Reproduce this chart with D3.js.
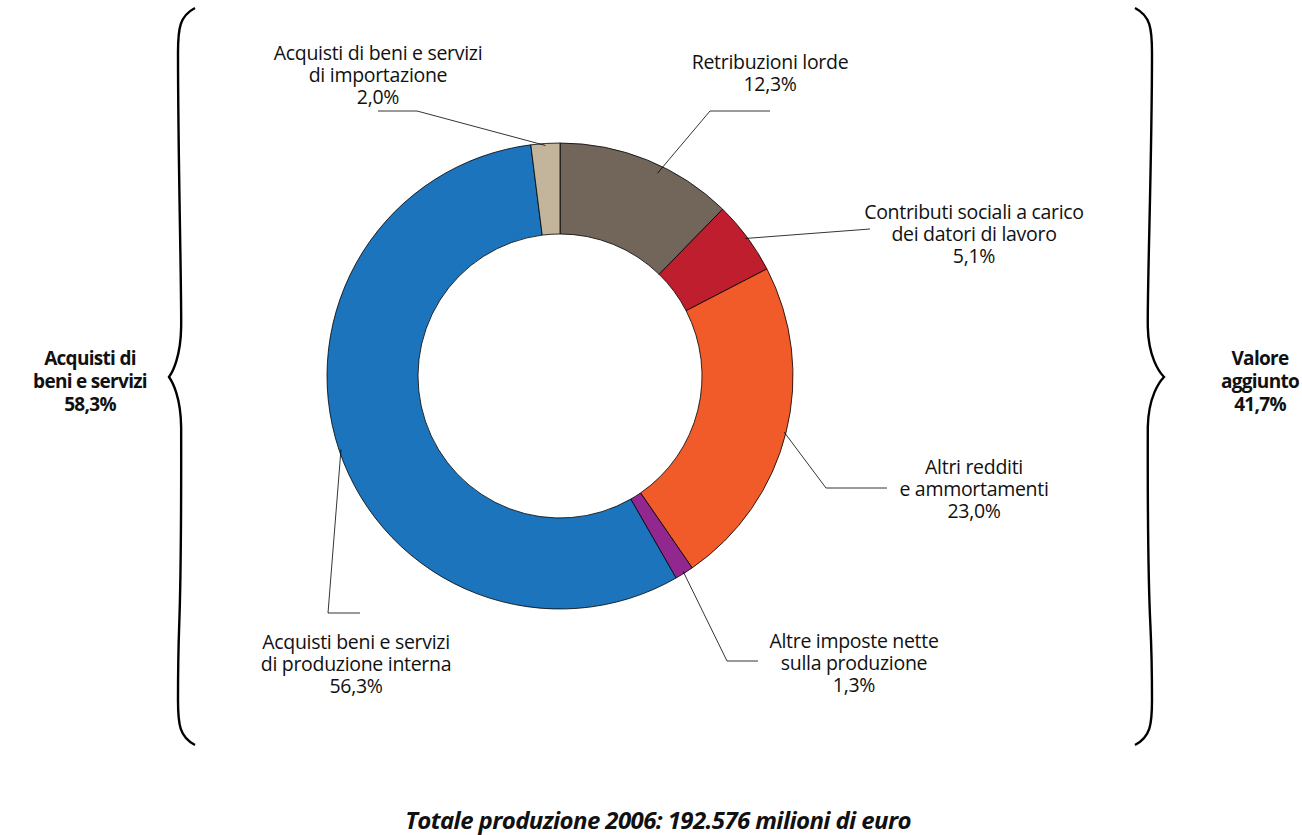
<!DOCTYPE html>
<html>
<head>
<meta charset="utf-8">
<script src="https://cdn.jsdelivr.net/npm/d3@7/dist/d3.min.js"></script>
<style>
  body { margin: 0; background: #fff; }
  text { font-family: "Open Sans", "Noto Sans", sans-serif; fill: #111; }
</style>
</head>
<body>
<div id="chart"></div>
<script>
// Slice names, values (%) and colours, clockwise from 12 o'clock.
var labels = [
  ["Retribuzioni lorde"],
  ["Contributi sociali a carico", "dei datori di lavoro"],
  ["Altri redditi", "e ammortamenti"],
  ["Altre imposte nette", "sulla produzione"],
  ["Acquisti beni e servizi", "di produzione interna"],
  ["Acquisti di beni e servizi", "di importazione"]
];
var values = [12.3, 5.1, 23.0, 1.3, 56.3, 2.0];
var colors = ["#72665a", "#be1e2d", "#f15a29", "#92278f", "#1c75bc", "#c2b59b"];

// Group totals shown beside the braces.
var groupLabels = [
  ["Acquisti di", "beni e servizi"],
  ["Valore", "aggiunto"]
];
var groupValues = [58.3, 41.7];

var totalText = "Totale produzione 2006: 192.576 milioni di euro";

// Label placement: leader elbow, leader end, text centre and first baseline.
var layout = [
  { elbow: [710, 111], end: [770, 111], tx: 770, ty: 69 },
  { elbow: [870, 229], end: [870, 229], tx: 974, ty: 219 },
  { elbow: [826, 488], end: [887, 488], tx: 974, ty: 474 },
  { elbow: [727, 661], end: [758, 661], tx: 854, ty: 648 },
  { elbow: [328, 613], end: [360, 613], tx: 356, ty: 649 },
  { elbow: [417, 111], end: [378, 111], tx: 378, ty: 60 }
];

var width = 1302,
    height = 835,
    cx = 560,
    cy = 376,
    outerRadius = 233,
    innerRadius = 142,
    lineHeight = 22;

var fmt = function (v) { return d3.format(".1f")(v).replace(".", ",") + "%"; };

var svg = d3.select("#chart").append("svg")
    .attr("width", width)
    .attr("height", height);

var g = svg.append("g")
    .attr("transform", "translate(" + cx + "," + cy + ")");

var pie = d3.pie().sort(null).value(function (d) { return d; }),
    arc = d3.arc().innerRadius(innerRadius).outerRadius(outerRadius),
    arcs = pie(values);

g.selectAll("path.slice")
  .data(arcs)
  .enter().append("path")
    .attr("class", "slice")
    .attr("d", arc)
    .style("fill", function (d, i) { return colors[i]; })
    .style("stroke", "#000")
    .style("stroke-width", 0.8);

// Leader lines from the outer edge of each slice to its label.
svg.selectAll("path.leader")
  .data(arcs)
  .enter().append("path")
    .attr("class", "leader")
    .attr("d", function (d, i) {
      var a = (d.startAngle + d.endAngle) / 2,
          r = outerRadius - 2,
          p = d3.path(),
          l = layout[i];
      // the brown slice's leader starts a little past its middle
      if (i === 0) { a = d.startAngle + (d.endAngle - d.startAngle) * 0.58; r = outerRadius - 8; }
      p.moveTo(cx + Math.sin(a) * r, cy - Math.cos(a) * r);
      p.lineTo(l.elbow[0], l.elbow[1]);
      p.lineTo(l.end[0], l.end[1]);
      return p.toString();
    })
    .style("fill", "none")
    .style("stroke", "#000")
    .style("stroke-width", 0.8);

// Slice labels.
var labelG = svg.selectAll("text.label")
  .data(arcs)
  .enter().append("text")
    .attr("class", "label")
    .attr("text-anchor", "middle")
    .style("font-size", "19.5px")
    .style("letter-spacing", "-0.3px");

labelG.each(function (d, i) {
  var t = d3.select(this),
      lines = labels[i].concat([fmt(values[i])]);
  lines.forEach(function (s, k) {
    t.append("tspan")
      .attr("x", layout[i].tx)
      .attr("y", layout[i].ty + k * lineHeight)
      .text(s);
  });
});

// Curly braces grouping the slices.
function brace(x0, xm, xt, yTop, yTip, yBot) {
  var p = d3.path(),
      s = xm - x0;
  p.moveTo(x0, yTop);
  p.bezierCurveTo(x0 + s * 0.9, yTop + 8, xm, yTop + 20, xm, yTop + 45);
  p.bezierCurveTo(xm, yTop + 150, xm + (xt - xm) * -0.4, yTip - 90, xm + (xt - xm) * -0.35, yTip - 50);
  p.bezierCurveTo(xm + (xt - xm) * -0.3, yTip - 20, xt - (xt - xm) * 0.4, yTip - 5, xt, yTip);
  p.bezierCurveTo(xt - (xt - xm) * 0.4, yTip + 5, xm + (xt - xm) * -0.3, yTip + 20, xm + (xt - xm) * -0.35, yTip + 50);
  p.bezierCurveTo(xm + (xt - xm) * -0.4, yBot - 90, xm, yBot - 150, xm, yBot - 45);
  p.bezierCurveTo(xm, yBot - 20, x0 + s * 0.9, yBot - 8, x0, yBot);
  return p.toString();
}

svg.append("path")
    .attr("d", brace(195, 178, 169, 8, 377, 745))
    .style("fill", "none").style("stroke", "#000").style("stroke-width", 2.4);

svg.append("path")
    .attr("d", brace(1135, 1152, 1164, 8, 377, 745))
    .style("fill", "none").style("stroke", "#000").style("stroke-width", 2.4);

// Group totals.
var groupX = [90, 1260];
groupLabels.forEach(function (lines, i) {
  var t = svg.append("text")
      .attr("text-anchor", "middle")
      .style("font-size", "19px")
      .style("font-weight", "bold")
      .style("letter-spacing", "-0.7px");
  lines.concat([fmt(groupValues[i])]).forEach(function (s, k) {
    t.append("tspan")
      .attr("x", groupX[i])
      .attr("y", 365 + k * 23)
      .text(s);
  });
});

// Total production caption.
svg.append("text")
    .attr("x", 658)
    .attr("y", 829)
    .attr("text-anchor", "middle")
    .style("font-size", "24px")
    .style("font-weight", "bold")
    .style("font-style", "italic")
    .style("letter-spacing", "-0.6px")
    .text(totalText);
</script>
</body>
</html>
